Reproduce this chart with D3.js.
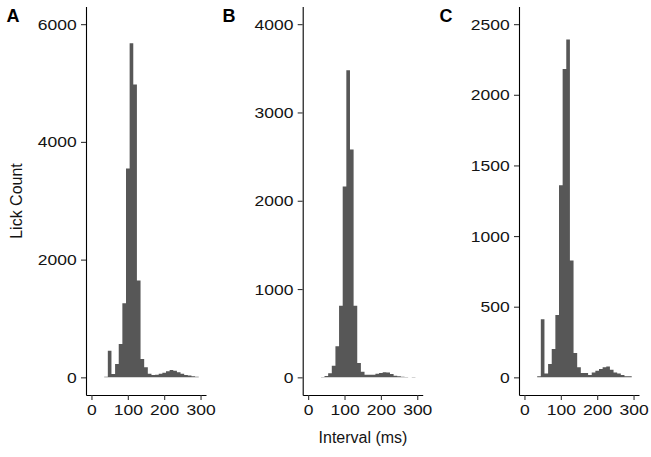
<!DOCTYPE html>
<html>
<head>
<meta charset="utf-8">
<script src="https://cdn.jsdelivr.net/npm/d3@7/dist/d3.min.js"></script>
<style>
  html, body { margin: 0; padding: 0; background: #fff; }
  svg { display: block; }
  text { font-family: "Liberation Sans", Arial, Helvetica, sans-serif; }
</style>
</head>
<body>
<svg id="chart" width="651" height="457"></svg>
<script>
// ---- data ----
const binStarts = [35, 45, 55, 65, 75, 85, 95, 105, 115, 125, 135, 145, 155,
                   165, 175, 185, 195, 205, 215, 225, 235, 245, 255, 265, 275, 285];
const binWidth = 10;
const countsA = [8, 450, 55, 227, 567, 1260, 3546, 5675, 4976, 1645, 313, 170, 60,
                 40, 45, 60, 80, 105, 125, 110, 85, 60, 40, 30, 18, 10];
const countsB = [5, 15, 45, 132, 351, 812, 2162, 3477, 2581, 812, 163, 64, 30,
                 30, 30, 40, 49, 57, 55, 38, 19, 11, 6, 3, 0, 3];
const countsC = [7, 411, 28, 95, 201, 442, 1359, 2182, 2392, 827, 173, 71, 31,
                 31, 17, 35, 47, 59, 71, 76, 54, 35, 28, 17, 7, 7];
const panelLabels = ["A", "B", "C"];
const yLimits = [6000, 4000, 2500];
const yTicksA = [0, 2000, 4000, 6000];
const yTicksB = [0, 1000, 2000, 3000, 4000];
const yTicksC = [0, 500, 1000, 1500, 2000, 2500];
const xLimits = [0, 300];
const xTicks = [0, 100, 200, 300];
const yTitle = "Lick Count";
const xTitle = "Interval (ms)";

// ---- layout ----
(function () {
const svg = d3.select("#chart");
const panels = [
  { label: panelLabels[0], counts: countsA, lim: yLimits[0], ticks: yTicksA, axisX: 86,    labelX: 6.5 },
  { label: panelLabels[1], counts: countsB, lim: yLimits[1], ticks: yTicksB, axisX: 302.7, labelX: 222.5 },
  { label: panelLabels[2], counts: countsC, lim: yLimits[2], ticks: yTicksC, axisX: 519,   labelX: 439.5 }
];
const panelW = 120;
const plotTop = 6.5, plotBottom = 395;
const barColor = "#575757";
const textColor = "#141414";

panels.forEach(p => {
  const xSpan = xLimits[1] - xLimits[0];
  const x = d3.scaleLinear()
    .domain([xLimits[0] - 0.05 * xSpan, xLimits[1] + 0.05 * xSpan])
    .range([p.axisX, p.axisX + panelW]);
  const y = d3.scaleLinear()
    .domain([-0.05 * p.lim, 1.05 * p.lim])
    .range([plotBottom, plotTop]);

  const g = svg.append("g");

  // histogram bars, drawn as one stepped area so adjacent bins have no seams
  const pts = binStarts.map((s, i) => ({ s, c: p.counts[i] }));
  const last = pts[pts.length - 1];
  pts.push({ s: last.s + binWidth, c: last.c });
  const area = d3.area()
    .curve(d3.curveStepAfter)
    .x(d => x(d.s))
    .y0(y(0))
    .y1(d => y(d.c));
  g.append("path")
    .datum(pts)
    .attr("d", area)
    .attr("fill", barColor);

  // y axis
  const ya = g.append("g")
    .attr("transform", `translate(${p.axisX},0)`)
    .call(d3.axisLeft(y).tickValues(p.ticks).tickSize(5).tickPadding(4).tickSizeOuter(0).tickFormat(d3.format("d")));
  // x axis
  const xa = g.append("g")
    .attr("transform", `translate(0,${plotBottom})`)
    .call(d3.axisBottom(x).tickValues(xTicks).tickSize(5).tickPadding(4).tickSizeOuter(0).tickFormat(d3.format("d")));

  [ya, xa].forEach(a => {
    a.select(".domain").attr("stroke", "#000").attr("stroke-width", 1.1);
    a.selectAll(".tick line").attr("stroke", "#333").attr("stroke-width", 1.1);
    a.selectAll(".tick text")
      .attr("fill", textColor)
      .style("font-size", "15.5px")
      .attr("font-family", null);
  });
  ya.selectAll(".tick text").each(function () {
    d3.select(this).attr("transform", "scale(1.13,1)").attr("x", -9.3 / 1.13);
  });
  xa.selectAll(".tick text").each(function () {
    d3.select(this).attr("transform", "scale(1.13,1)");
  });

  // panel label
  svg.append("text")
    .attr("x", p.labelX)
    .attr("y", 22)
    .attr("fill", "#000")
    .style("font-size", "18px")
    .style("font-weight", "bold")
    .text(p.label);
});

// axis titles
svg.append("text")
  .attr("transform", "translate(22,201) rotate(-90)")
  .attr("text-anchor", "middle")
  .attr("fill", textColor)
  .style("font-size", "16px")
  .text(yTitle);

svg.append("text")
  .attr("x", 363)
  .attr("y", 443)
  .attr("text-anchor", "middle")
  .attr("fill", textColor)
  .style("font-size", "16px")
  .text(xTitle);
})();
</script>
</body>
</html>
